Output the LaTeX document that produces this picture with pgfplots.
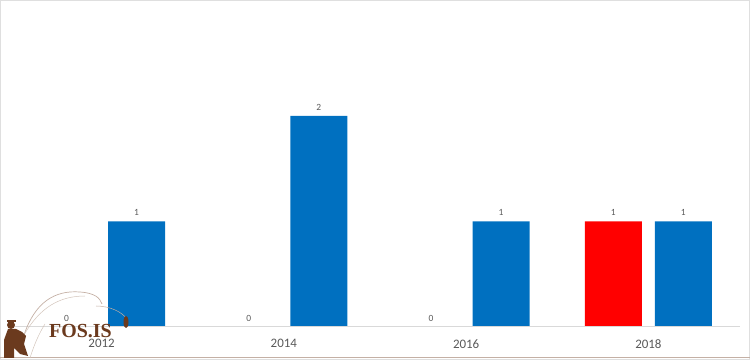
\documentclass[border=0pt]{standalone}
\usepackage{pgfplots}
\pgfplotsset{compat=1.18}
\usepackage{fontspec}
\setmainfont{Carlito}
\newfontfamily\logofont{Liberation Serif}
\definecolor{bblue}{HTML}{0070C0}
\definecolor{bred}{HTML}{FF0000}
\definecolor{lbl}{HTML}{595959}
\definecolor{brn}{HTML}{6B3A1E}
\begin{document}
\begin{tikzpicture}[x=1bp,y=1bp]
\useasboundingbox (0,0) rectangle (750bp,362bp);
\draw[gray!25,line width=1bp] (0.5bp,2.5bp) rectangle (749.5bp,361.5bp);
\draw[brn!40,line width=0.8bp] (0,5bp) -- (750bp,5bp);
\begin{axis}[
  at={(10.5bp,35bp)}, anchor=south west,
  scale only axis, width=729bp, height=316.5bp,
  xmin=-0.5, xmax=3.5, ymin=0, ymax=3,
  ybar=13bp, bar width=57bp,
  axis y line=none,
  axis x line*=bottom,
  axis on top,
  x axis line style={draw=gray!30, line width=1bp, -},
  xtick={0,1,2,3}, xticklabels={2012,2014,2016,2018},
  major tick length=0pt,
  xticklabel style={font=\fontsize{13}{15}\selectfont, text=lbl, yshift=-9bp},
  /pgf/number format/assume math mode=true,
  nodes near coords,
  every node near coord/.append style={font=\fontsize{9.5}{11}\selectfont, text=lbl, yshift=2bp},
  clip=false,
]
\addplot[draw=none, fill=bred] coordinates {(0,0) (1,0) (2,0) (3,1)};
\addplot[draw=none, fill=bblue] coordinates {(0,1) (1,2) (2,1) (3,1)};
\end{axis}
% logo
\draw[brn!40, line width=0.7bp] (24bp,27bp) .. controls (35bp,60bp) and (55bp,72bp) .. (80bp,70bp) .. controls (95bp,69bp) and (100bp,64bp) .. (102bp,58bp);
\draw[brn!30, line width=0.5bp] (24bp,27bp) .. controls (40bp,55bp) and (60bp,66bp) .. (85bp,66bp);
\draw[brn!40, line width=0.5bp] (96bp,56bp) .. controls (110bp,56bp) and (122bp,50bp) .. (127bp,43bp);
\draw[brn!30, line width=0.5bp] (30bp,4bp) .. controls (35bp,20bp) and (40bp,30bp) .. (45bp,38bp);
\fill[brn] (4bp,4bp) -- (14bp,4bp) -- (14bp,14bp) -- (20bp,8bp) -- (28bp,6bp) -- (24bp,18bp) -- (26bp,26bp) -- (22bp,30bp) -- (16bp,33bp) -- (8bp,33bp) -- (4bp,22bp) -- cycle;
\fill[brn] (11bp,37bp) circle (4bp);
\fill[brn] (7bp,40bp) rectangle (16bp,42bp);
\fill[brn] (126bp,40bp) ellipse (2.5bp and 6bp);
\node[font=\logofont\bfseries\fontsize{20}{22}\selectfont, text=brn, anchor=base west, inner sep=0pt] at (49bp,25bp) {FOS.IS};
\end{tikzpicture}
\end{document}
